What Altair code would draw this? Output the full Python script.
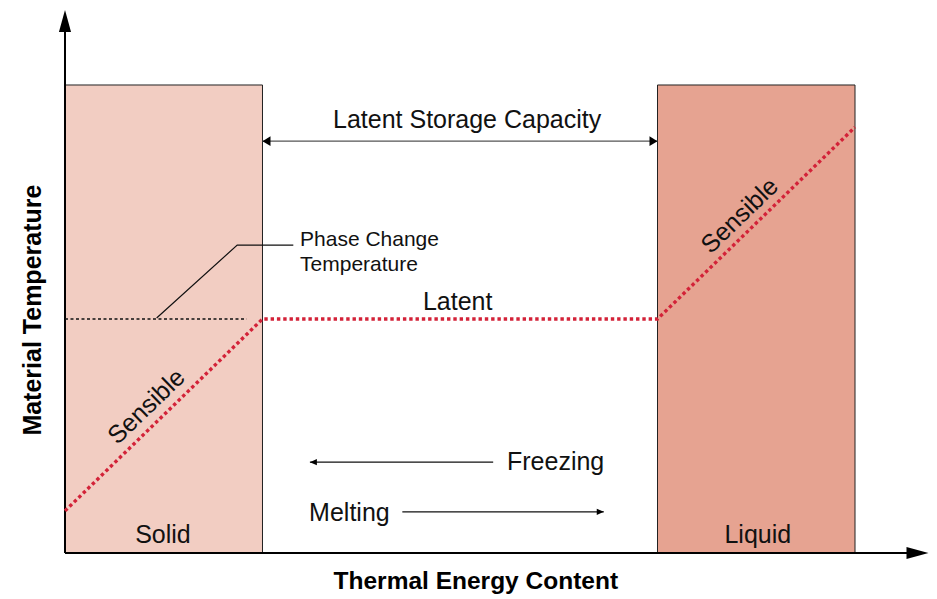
import altair as alt
import pandas as pd

# ---------------- data (diagram units: energy 0-100 spans the two phase boxes, temperature 0-100 box height)
phase_names = ["Solid", "Liquid"]
phase_x0 = [0, 75]
phase_x1 = [25, 100]
phase_bottom = [0, 0]
phase_top = [100, 100]
phase_fill = ["#F2CDC2", "#E6A391"]

path_energy = [0, 25, 75, 100]
path_temp = [9, 50, 50, 91]

phase_change_temp = 50
phase_change_dash_end = 23

leader_x = [11.6, 21.8, 28.9]
leader_y = [50.2, 65.8, 65.8]

capacity_y = 88
freeze_x = [31.0, 54.2]
freeze_y = 19.4
melt_x = [42.7, 68.2]
melt_y = 8.8

axis_top = 116.0
axis_right = 109.3

# labels
center_text = ["Latent Storage Capacity", "Latent", "Solid", "Liquid"]
center_tx = [50.9, 49.7, 12.4, 87.7]
center_ty = [92.5, 53.6, 3.85, 3.85]

left_text = ["Phase Change", "Temperature", "Freezing", "Melting"]
left_tx = [29.75, 29.75, 55.95, 30.9]
left_ty = [66.9, 61.5, 19.4, 8.6]
left_size = [21, 21, 25, 25]

sens_text = ["Sensible", "Sensible"]
sens_tx = [10.3, 85.4]
sens_ty = [31.3, 72.1]

x_title = "Thermal Energy Content"
y_title = "Material Temperature"

# ---------------- scales
W, H = 921, 587
XDOM = [-7.215, 109.367]
YDOM = [-8.97, 116.45]
FONT = "Liberation Sans"
RED = "#D32238"

def X(f="x"):
    return alt.X(f"{f}:Q", scale=alt.Scale(domain=XDOM, nice=False, zero=False), axis=None)

def Y(f="y"):
    return alt.Y(f"{f}:Q", scale=alt.Scale(domain=YDOM, nice=False, zero=False), axis=None)

# phase boxes
boxes = pd.DataFrame({"name": phase_names, "x": phase_x0, "x2": phase_x1,
                      "y": phase_bottom, "y2": phase_top, "fill": phase_fill})
box_layer = alt.Chart(boxes).mark_rect(stroke="#222", strokeWidth=1).encode(
    x=X(), x2="x2:Q", y=Y(), y2="y2:Q", fill=alt.Fill("fill:N", scale=None))

# axes lines
axes = pd.DataFrame({"x": [0, 0], "x2": [0, axis_right - 1.5], "y": [0, 0], "y2": [axis_top - 2, 0]})
axis_layer = alt.Chart(axes).mark_rule(color="black", strokeWidth=2).encode(
    x=X(), x2="x2:Q", y=Y(), y2="y2:Q")

# temperature path
path = pd.DataFrame({"x": path_energy, "y": path_temp, "o": list(range(len(path_energy)))})
path_layer = alt.Chart(path).mark_line(color=RED, strokeWidth=3.4, strokeDash=[3.4, 2.9],
                                       strokeCap="butt").encode(x=X(), y=Y(), order="o:Q")

# phase change dashed line
dash = pd.DataFrame({"x": [0], "x2": [phase_change_dash_end], "y": [phase_change_temp]})
dash_layer = alt.Chart(dash).mark_rule(color="#111", strokeWidth=1.4, strokeDash=[3, 2.5]).encode(
    x=X(), x2="x2:Q", y=Y())

# leader line
leader = pd.DataFrame({"x": leader_x, "y": leader_y, "o": [0, 1, 2]})
leader_layer = alt.Chart(leader).mark_line(color="#111", strokeWidth=1.2).encode(
    x=X(), y=Y(), order="o:Q")

# arrow shafts
shafts = pd.DataFrame({
    "x": [25, freeze_x[0], melt_x[0]],
    "x2": [75, freeze_x[1], melt_x[1]],
    "y": [capacity_y, freeze_y, melt_y],
    "c": ["#555", "#111", "#111"],
})
shaft_layer = alt.Chart(shafts).mark_rule(strokeWidth=1.2).encode(
    x=X(), x2="x2:Q", y=Y(), color=alt.Color("c:N", scale=None))

# arrow heads (custom paths with tip at origin)
UP = "M0,0L0.55,2L-0.55,2Z"
RIGHT_BIG = "M0,0L-2,-0.55L-2,0.55Z"
LEFT = "M0,0L2,-1.2L2,1.2Z"
RIGHT = "M0,0L-2,-1.2L-2,1.2Z"
LEFT_S = "M0,0L2,-0.9L2,0.9Z"
RIGHT_S = "M0,0L-2,-0.9L-2,0.9Z"
heads = pd.DataFrame({
    "x": [0, axis_right, 25, 75, freeze_x[0], melt_x[1]],
    "y": [axis_top, 0, capacity_y, capacity_y, freeze_y, melt_y],
    "shape": [UP, RIGHT_BIG, LEFT, RIGHT, LEFT_S, RIGHT_S],
    "size": [484, 484, 64, 64, 49, 49],
})
head_layer = alt.Chart(heads).mark_point(filled=True, opacity=1, color="black", strokeWidth=0).encode(
    x=X(), y=Y(), shape=alt.Shape("shape:N", scale=None), size=alt.Size("size:Q", scale=None))

# texts
ct = pd.DataFrame({"t": center_text, "x": center_tx, "y": center_ty})
center_layer = alt.Chart(ct).mark_text(font=FONT, fontSize=25, color="#111", align="center",
                                       baseline="middle").encode(x=X(), y=Y(), text="t:N")

lt = pd.DataFrame({"t": left_text, "x": left_tx, "y": left_ty, "s": left_size})
left_layer = alt.Chart(lt).mark_text(font=FONT, color="#111", align="left", baseline="middle").encode(
    x=X(), y=Y(), text="t:N", size=alt.Size("s:Q", scale=None))

st = pd.DataFrame({"t": sens_text, "x": sens_tx, "y": sens_ty})
sens_layer = alt.Chart(st).mark_text(font=FONT, fontSize=25, color="#111", align="center",
                                     baseline="middle", angle=316).encode(x=X(), y=Y(), text="t:N")

xt = pd.DataFrame({"t": [x_title], "x": [52.0], "y": [-7.7]})
xt_layer = alt.Chart(xt).mark_text(font=FONT, fontSize=24.5, fontWeight="bold", color="black",
                                   align="center", baseline="alphabetic").encode(x=X(), y=Y(), text="t:N")
yt = pd.DataFrame({"t": [y_title], "x": [-4.05], "y": [51.9]})
yt_layer = alt.Chart(yt).mark_text(font=FONT, fontSize=25, fontWeight="bold", color="black",
                                   align="center", baseline="middle", angle=270).encode(
    x=X(), y=Y(), text="t:N")

chart = alt.layer(
    box_layer, axis_layer, dash_layer, leader_layer, path_layer, shaft_layer, head_layer,
    center_layer, left_layer, sens_layer, xt_layer, yt_layer,
).properties(width=W, height=H, padding=0, autosize="none").configure_view(stroke=None)

chart.save("out.html", embed_options={"renderer": "svg", "actions": False})
